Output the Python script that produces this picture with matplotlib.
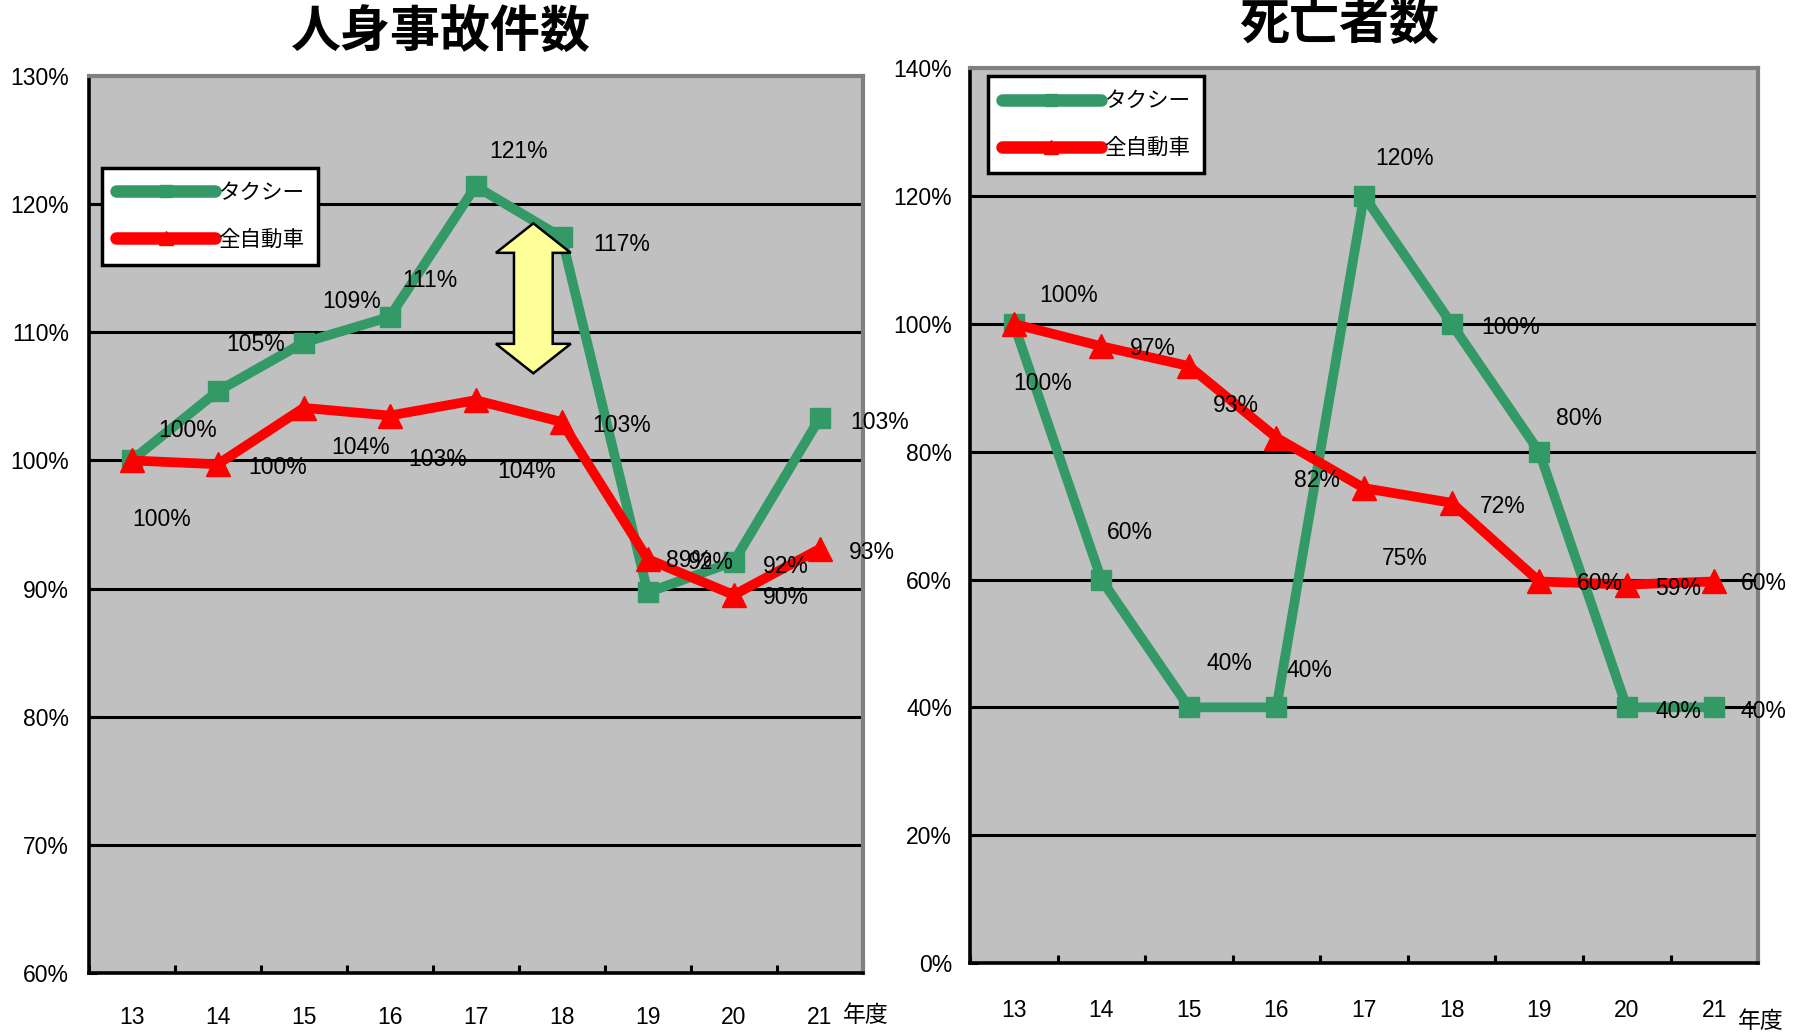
import numpy as np
import matplotlib
matplotlib.use("Agg")
import matplotlib.pyplot as plt
from matplotlib.patches import Polygon
from matplotlib.lines import Line2D

# ---------------- data ----------------
years = ["13", "14", "15", "16", "17", "18", "19", "20", "21"]

acc_taxi = [100, 105.4, 109.2, 111.2, 121.4, 117.4, 89.7, 92.1, 103.3]
acc_all = [100, 99.7, 104.1, 103.5, 104.7, 103.0, 92.3, 89.5, 93.1]
acc_taxi_labels = ["100%", "105%", "109%", "111%", "121%", "117%", "89%", "92%", "103%"]
acc_all_labels = ["100%", "100%", "104%", "103%", "104%", "103%", "92%", "90%", "93%"]

dead_taxi = [100, 60, 40, 40, 120, 100, 80, 40, 40]
dead_all = [100, 96.5, 93.4, 82.2, 74.3, 72.0, 59.7, 59.2, 59.7]
dead_taxi_labels = ["100%", "60%", "40%", "40%", "120%", "100%", "80%", "40%", "40%"]
dead_all_labels = ["100%", "97%", "93%", "82%", "75%", "72%", "60%", "59%", "60%"]

series_names = ["タクシー", "全自動車"]
titles = ["人身事故件数", "死亡者数"]
unit_label = "年度"

# ---------------- label offsets (pixels, reference scale) ----------------
off_acc_taxi = [(49, -26), (33, -41), (42, -36), (35, -32), (37, -30), (52, 6), (36, -28), (45, 4), (52, 4)]
off_acc_all = [(26, 51), (52, 3), (49, 34), (42, 38), (44, 62), (52, 3), (55, 3), (45, 2), (45, 3)]
off_dead_taxi = [(48, -25), (25, -41), (35, -38), (29, -32), (35, -33), (51, 3), (35, -29), (45, 4), (43, 4)]
off_dead_all = [(25, 52), (45, 2), (41, 34), (35, 37), (35, 61), (44, 3), (53, 2), (45, 3), (43, 2)]
SCALE = 1805 / 1568

GREEN = "#339966"
RED = "#FF0000"
BG = "#C0C0C0"
NUM_FONT = ["Liberation Sans Narrow", "Liberation Sans", "DejaVu Sans"]
CJK_FONT = ["Noto Sans CJK JP", "DejaVu Sans"]

plt.rcParams["font.family"] = NUM_FONT

fig = plt.figure(figsize=(18.05, 10.34), dpi=100)
fig.patch.set_facecolor("white")

ax1 = fig.add_axes([0.0491, 0.059, 0.478 - 0.0491, 0.9265 - 0.059])
ax2 = fig.add_axes([0.5374, 0.0687, 0.974 - 0.5374, 0.934 - 0.0687])

x = np.arange(len(years))


def style_axes(ax, ylo, yhi, ystep, xpad, ylabpad):
    ax.set_facecolor(BG)
    ax.set_xlim(-0.5, len(years) - 0.5)
    ax.set_ylim(ylo, yhi)
    yt = np.arange(ylo, yhi + 0.1, ystep)
    ax.set_yticks(yt)
    ax.set_yticklabels([f"{int(v)}%" for v in yt], fontsize=16.5)
    for v in yt[1:-1]:
        ax.axhline(v, color="black", lw=2.2, zorder=1)
    ax.set_xticks(np.arange(-0.5, len(years), 1.0))
    ax.set_xticklabels([])
    ax.set_xticks(x, minor=True)
    ax.set_xticklabels(years, minor=True, fontsize=16.5)
    ax.tick_params(axis="x", which="major", direction="in", length=6, width=2.2)
    ax.tick_params(axis="x", which="minor", length=0, pad=xpad)
    ax.tick_params(axis="y", direction="in", length=6, width=2.2, pad=ylabpad)
    for s in ["left", "bottom"]:
        ax.spines[s].set_color("black")
        ax.spines[s].set_linewidth(2.6)
    for s in ["top", "right"]:
        ax.spines[s].set_color("#808080")
        ax.spines[s].set_linewidth(3)


def draw_series(ax, taxi, allv, tl, al, to, ao):
    ax.plot(x, taxi, color=GREEN, lw=7, marker="s", ms=15, mec=GREEN,
            solid_capstyle="round", solid_joinstyle="round", zorder=3, label=series_names[0])
    ax.plot(x, allv, color=RED, lw=7, marker="^", ms=17, mec=RED,
            solid_capstyle="round", solid_joinstyle="round", zorder=4, label=series_names[1])
    for xi, yi, t, (dx, dy) in zip(x, taxi, tl, to):
        ax.annotate(t, (xi, yi), xytext=(dx * SCALE, -dy * SCALE), textcoords="offset pixels",
                    ha="center", va="center", fontsize=16.5, zorder=6)
    for xi, yi, t, (dx, dy) in zip(x, allv, al, ao):
        ax.annotate(t, (xi, yi), xytext=(dx * SCALE, -dy * SCALE), textcoords="offset pixels",
                    ha="center", va="center", fontsize=16.5, zorder=6)


def add_legend(ax, anchor):
    handles = [
        Line2D([], [], color=GREEN, lw=9, marker="s", ms=8, solid_capstyle="round"),
        Line2D([], [], color=RED, lw=9, marker="^", ms=10, solid_capstyle="round"),
    ]
    leg = ax.legend(handles, series_names, loc="upper left", bbox_to_anchor=anchor,
                    frameon=True, fancybox=False, edgecolor="black", facecolor="white",
                    framealpha=1, prop={"family": CJK_FONT, "size": 15.5},
                    handlelength=4.6, handletextpad=0.15, labelspacing=1.15,
                    borderpad=0.65, borderaxespad=0, numpoints=1)
    leg.get_frame().set_linewidth(2.5)
    leg.set_zorder(10)


style_axes(ax1, 60, 130, 10, 24, 14)
style_axes(ax2, 0, 140, 20, 26, 13)

draw_series(ax1, acc_taxi, acc_all, acc_taxi_labels, acc_all_labels, off_acc_taxi, off_acc_all)
draw_series(ax2, dead_taxi, dead_all, dead_taxi_labels, dead_all_labels, off_dead_taxi, off_dead_all)

add_legend(ax1, (0.0173, 0.8975))
add_legend(ax2, (0.0228, 0.991))

# double-headed yellow arrow (annotation)
arrow_cx, arrow_top, arrow_bot = 4.67, 118.5, 106.8
head_len, head_hw, shaft_hw = 2.3, 0.435, 0.225
pts = [
    (arrow_cx, arrow_top),
    (arrow_cx + head_hw, arrow_top - head_len),
    (arrow_cx + shaft_hw, arrow_top - head_len),
    (arrow_cx + shaft_hw, arrow_bot + head_len),
    (arrow_cx + head_hw, arrow_bot + head_len),
    (arrow_cx, arrow_bot),
    (arrow_cx - head_hw, arrow_bot + head_len),
    (arrow_cx - shaft_hw, arrow_bot + head_len),
    (arrow_cx - shaft_hw, arrow_top - head_len),
    (arrow_cx - head_hw, arrow_top - head_len),
]
ax1.add_patch(Polygon(pts, closed=True, facecolor="#FFFF99", edgecolor="black", lw=1.8, zorder=5))

# titles
fig.text(441 / 1805, 1 - 32 / 1034, titles[0], ha="center", va="center",
         fontsize=36, fontweight="bold", family=CJK_FONT)
fig.text(1339 / 1805, 1 - 24 / 1034, titles[1], ha="center", va="center",
         fontsize=36, fontweight="bold", family=CJK_FONT)

ax1.text(1.004, -0.047, unit_label, transform=ax1.transAxes, ha="center", va="center",
         fontsize=16.5, family=CJK_FONT)
ax2.text(1.004, -0.065, unit_label, transform=ax2.transAxes, ha="center", va="center",
         fontsize=16.5, family=CJK_FONT)

fig.savefig("out.png", dpi=100, facecolor="white")
